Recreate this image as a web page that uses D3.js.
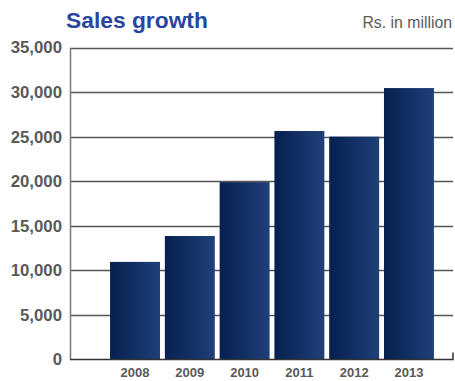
<!DOCTYPE html>
<html>
<head>
<meta charset="utf-8">
<script src="https://cdn.jsdelivr.net/npm/d3@7"></script>
<style>
  html, body { margin: 0; padding: 0; background: #fff; }
  svg { display: block; font-family: "Liberation Sans", Arial, sans-serif; }
</style>
</head>
<body>
<svg id="chart" width="455" height="381"></svg>
<script>
// Annual sales, Rs. in million
const years = ["2008", "2009", "2010", "2011", "2012", "2013"];
const sales = [10950, 13850, 19900, 25630, 25000, 30450];
const yTicks = [0, 5000, 10000, 15000, 20000, 25000, 30000, 35000];

const svg = d3.select("#chart");
const plotLeft = 70, plotRight = 453, plotTop = 47.5, plotBottom = 359.5;

const y = d3.scaleLinear().domain([0, 35000]).range([plotBottom, plotTop]);
const x = d3.scaleBand().domain(years).range([107.6, 436.4])
  .paddingInner(0.088).paddingOuter(0.045);

// bar fill: dark navy on the left fading to a lighter blue on the right
const grad = svg.append("defs").append("linearGradient")
  .attr("id", "barFill").attr("x1", "0%").attr("x2", "100%");
grad.append("stop").attr("offset", "0%").attr("stop-color", "#06204f");
grad.append("stop").attr("offset", "100%").attr("stop-color", "#1f4079");

// horizontal gridlines
svg.append("g").selectAll("line").data(yTicks.filter(d => d > 0)).join("line")
  .attr("x1", plotLeft).attr("x2", plotRight)
  .attr("y1", d => Math.round(y(d)) + 0.5).attr("y2", d => Math.round(y(d)) + 0.5)
  .attr("stroke", "#555").attr("stroke-width", 1.5);

// bars
svg.append("g").selectAll("rect").data(years).join("rect")
  .attr("x", d => x(d))
  .attr("width", x.bandwidth())
  .attr("y", (d, i) => y(sales[i]))
  .attr("height", (d, i) => y(0) - y(sales[i]))
  .attr("fill", "url(#barFill)");

// left axis
const yAxis = svg.append("g").attr("transform", `translate(${plotLeft},0)`)
  .call(d3.axisLeft(y).tickValues(yTicks).tickSize(0).tickPadding(8)
    .tickFormat(d3.format(",")));
yAxis.select(".domain").attr("stroke", "#777").attr("stroke-width", 1.5);
yAxis.selectAll("text")
  .attr("font-size", 16.8).attr("font-weight", "bold").attr("fill", "#595959")
  .attr("font-family", "'Liberation Sans', Arial, sans-serif");

// baseline with closing tick on the right
svg.append("path")
  .attr("d", `M${plotLeft},${plotBottom} H${plotRight} V${plotBottom - 7}`)
  .attr("fill", "none").attr("stroke", "#333").attr("stroke-width", 1.5);

// year labels
const xAxis = svg.append("g").attr("transform", `translate(0,${plotBottom})`)
  .call(d3.axisBottom(x).tickSize(0).tickPadding(8));
xAxis.select(".domain").remove();
xAxis.selectAll("text")
  .attr("font-size", 13).attr("font-weight", "bold").attr("fill", "#595959")
  .attr("font-family", "'Liberation Sans', Arial, sans-serif");

// title and unit note
svg.append("text").attr("x", 66).attr("y", 28)
  .attr("font-size", 22.8).attr("font-weight", "bold").attr("fill", "#2845a0")
  .text("Sales growth");
svg.append("text").attr("x", 452).attr("y", 28).attr("text-anchor", "end")
  .attr("font-size", 15.8).attr("fill", "#5a5a5a")
  .text("Rs. in million");
</script>
</body>
</html>
